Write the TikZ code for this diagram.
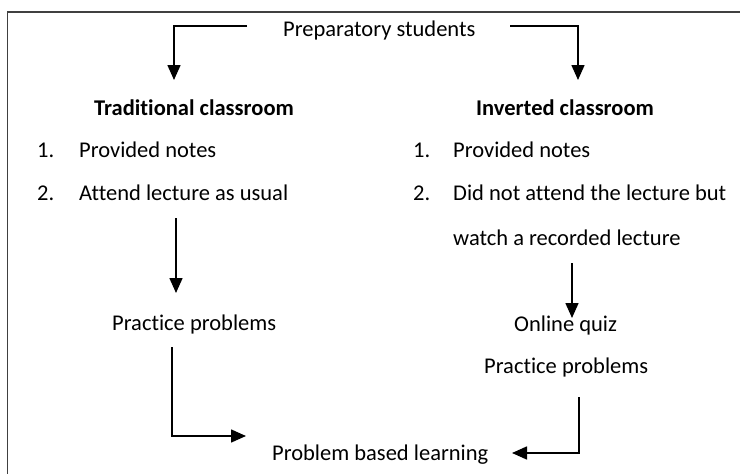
\documentclass[tikz,border=0pt]{standalone}
\usepackage{fontspec}
\setmainfont{Carlito}[Ligatures={NoCommon}]
\usetikzlibrary{arrows.meta}
\begin{document}
\begin{tikzpicture}[x=1pt,y=-1pt,
  txt/.style={anchor=base west,inner sep=0pt,font=\fontsize{22.5}{27}\selectfont},
  btxt/.style={anchor=base west,inner sep=0pt,font=\fontsize{22.5}{27}\selectfont\bfseries},
  arr/.style={line width=1.6pt,-{Triangle[length=15pt,width=13pt]}},
  framestyle/.style={line width=1.2pt,draw=black!75}]
\useasboundingbox (0,0) rectangle (740,474);
\draw[framestyle] (7.5,474) -- (7.5,12) -- (740,12);

% texts
\node[txt] (prep) at (283,36) {Preparatory students};
\node[btxt] (trad) at (94,115) {Traditional classroom};
\node[btxt] (inv) at (476,115) {Inverted classroom};
\node[txt] (l1n) at (37,157) {1.};
\node[txt] (l1) at (79,157) {Provided notes};
\node[txt] (l2n) at (37,200) {2.};
\node[txt] (l2) at (79,200) {Attend lecture as usual};
\node[txt] (r1n) at (413,157) {1.};
\node[txt] (r1) at (453,157) {Provided notes};
\node[txt] (r2n) at (413,200) {2.};
\node[txt] (r2) at (453,200) {Did not attend the lecture but};
\node[txt] (r3) at (453,245) {watch a recorded lecture};
\node[txt] (lpp) at (112,330) {Practice problems};
\node[txt] (quiz) at (514,331) {Online quiz};
\node[txt] (rpp) at (484,373) {Practice problems};
\node[txt] (pbl) at (272,460) {Problem based learning};

% connector ends
\coordinate (a1s) at (247,26);
\coordinate (a1e) at (174,80);
\coordinate (a2s) at (510,26);
\coordinate (a2e) at (578,80);
\coordinate (a3s) at (176,218);
\coordinate (a3e) at (176,293);
\coordinate (a4s) at (572,263);
\coordinate (a4e) at (572,318);
\coordinate (a5s) at (172,347);
\coordinate (a5e) at (246,436);
\coordinate (a6s) at (579,397);
\coordinate (a6e) at (512,453);

\draw[arr] (a1s) -| (a1e);
\draw[arr] (a2s) -| (a2e);
\draw[arr] (a3s) -- (a3e);
\draw[arr] (a4s) -- (a4e);
\draw[arr] (a5s) |- (a5e);
\draw[arr] (a6s) |- (a6e);
\end{tikzpicture}
\end{document}
